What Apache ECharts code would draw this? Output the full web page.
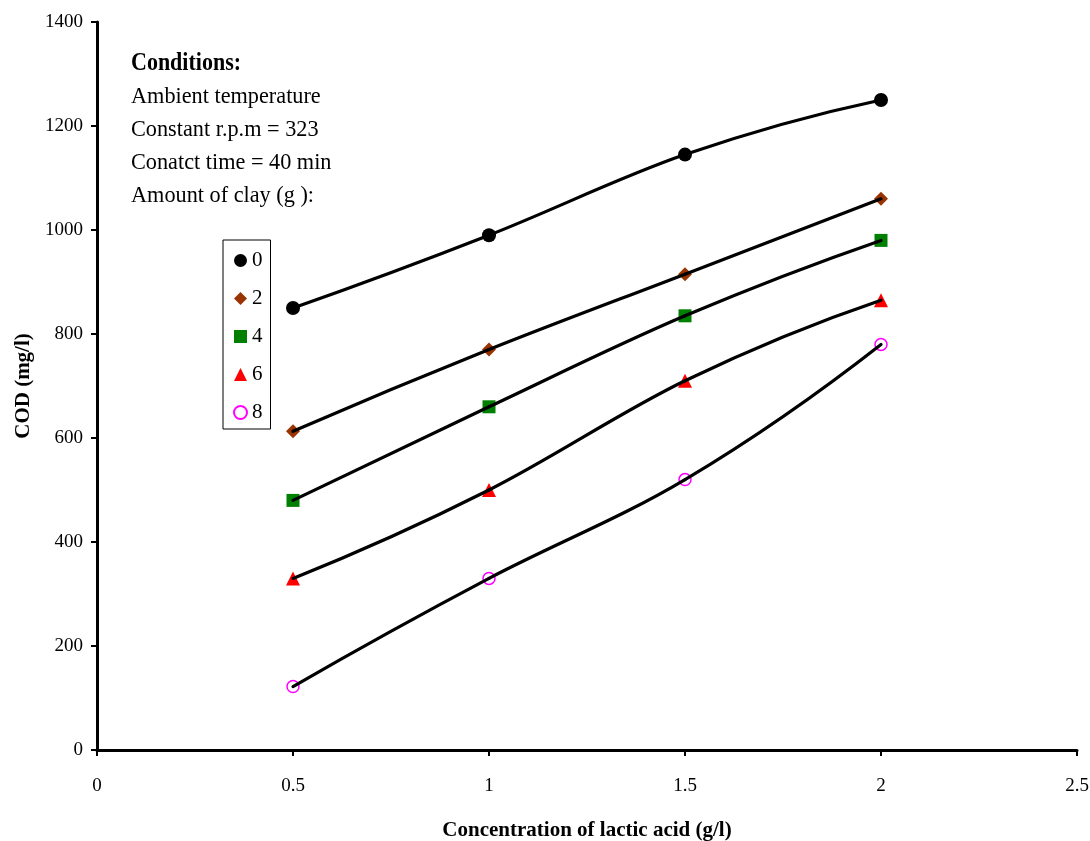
<!DOCTYPE html>
<html><head><meta charset="utf-8">
<script src="https://cdn.jsdelivr.net/npm/echarts@6/dist/echarts.min.js"></script>
<style>html,body{margin:0;padding:0;background:#fff}#c{width:1090px;height:841px}</style>
</head><body><div id="c"></div>
<script>
const xValues = [0.5, 1, 1.5, 2];
const clay0 = [850, 990, 1145, 1250];
const clay2 = [613, 770, 915, 1060];
const clay4 = [480, 660, 835, 980];
const clay6 = [330, 500, 710, 865];
const clay8 = [122, 330, 520, 780];
const seriesNames = ['0', '2', '4', '6', '8'];
const conditionLines = ['Ambient temperature', 'Constant r.p.m = 323', 'Conatct time = 40 min', 'Amount of clay (g ):'];

const font = 'Liberation Serif';
const specs = [
  {data: clay0, symbol: 'circle', size: 14, color: '#000000', hollow: false},
  {data: clay2, symbol: 'diamond', size: 14, color: '#993300', hollow: false},
  {data: clay4, symbol: 'rect', size: 13, color: '#008000', hollow: false},
  {data: clay6, symbol: 'triangle', size: 14, color: '#ff0000', hollow: false},
  {data: clay8, symbol: 'circle', size: 12, color: '#ff00ff', hollow: true}
];

// smooth curve segments (Excel-like spline) computed in pixel space via the axes
function makeRenderer(values) {
  return function (params, api) {
    const i = params.dataIndex;
    const n = values.length;
    if (i >= n - 1) return null;
    const P = values.map((v, k) => api.coord([xValues[k], v]));
    const D = P.map((p, k) => {
      if (k > 0 && k < n - 1) return [(P[k + 1][0] - P[k - 1][0]) / 2, (P[k + 1][1] - P[k - 1][1]) / 2];
      return null;
    });
    if (n > 2) {
      const d1 = D[1];
      D[0] = [2 * (P[1][0] - P[0][0]) - d1[0], 2 * (P[1][1] - P[0][1]) - d1[1]];
      const dl = D[n - 2];
      D[n - 1] = [2 * (P[n - 1][0] - P[n - 2][0]) - dl[0], 2 * (P[n - 1][1] - P[n - 2][1]) - dl[1]];
    } else {
      D[0] = [P[1][0] - P[0][0], P[1][1] - P[0][1]];
      D[1] = D[0];
    }
    const a = P[i], b = P[i + 1];
    return {
      type: 'bezierCurve',
      shape: {
        x1: a[0], y1: a[1], x2: b[0], y2: b[1],
        cpx1: a[0] + D[i][0] / 3, cpy1: a[1] + D[i][1] / 3,
        cpx2: b[0] - D[i + 1][0] / 3, cpy2: b[1] - D[i + 1][1] / 3
      },
      style: {stroke: '#000', lineWidth: 3.2, fill: 'none', lineCap: 'round'},
      silent: true
    };
  };
}

const series = [];
specs.forEach((s, i) => {
  series.push({
    name: seriesNames[i],
    type: 'line',
    data: xValues.map((x, j) => [x, s.data[j]]),
    symbol: s.symbol,
    symbolSize: s.size,
    showAllSymbol: true,
    lineStyle: {width: 0, opacity: 0},
    itemStyle: s.hollow ? {color: '#fff', borderColor: s.color, borderWidth: 1.5} : {color: s.color, borderWidth: 0},
    z: 2
  });
});
specs.forEach((s, i) => {
  series.push({
    name: 'curve' + seriesNames[i],
    type: 'custom',
    data: xValues.map((x, j) => [x, s.data[j]]),
    renderItem: makeRenderer(s.data),
    z: 3,
    silent: true
  });
});

const chart = echarts.init(document.getElementById('c'));
chart.setOption({
  animation: false,
  backgroundColor: '#fff',
  grid: {left: 97, right: 13, top: 22, bottom: 91, containLabel: false, outerBoundsMode: 'none'},
  xAxis: {
    type: 'value', min: 0, max: 2.5, interval: 0.5,
    name: 'Concentration of lactic acid (g/l)', nameLocation: 'middle', nameGap: 70,
    nameTextStyle: {fontFamily: font, fontWeight: 'bold', fontSize: 21, color: '#000'},
    axisLine: {lineStyle: {color: '#000', width: 3}},
    axisTick: {length: 6, lineStyle: {color: '#000', width: 2}},
    axisLabel: {fontFamily: font, fontSize: 19, color: '#000', margin: 27},
    splitLine: {show: false}
  },
  yAxis: {
    type: 'value', min: 0, max: 1400, interval: 200,
    name: 'COD (mg/l)', nameLocation: 'middle', nameGap: 62, nameRotate: 90,
    nameTextStyle: {fontFamily: font, fontWeight: 'bold', fontSize: 21, color: '#000'},
    axisLine: {lineStyle: {color: '#000', width: 3}},
    axisTick: {length: 6, lineStyle: {color: '#000', width: 2}},
    axisLabel: {fontFamily: font, fontSize: 19, color: '#000', margin: 14, formatter: v => String(v)},
    splitLine: {show: false}
  },
  legend: {
    orient: 'vertical', left: 223, top: 240,
    padding: [10, 8, 6, 10],
    borderColor: '#000', borderWidth: 1,
    itemWidth: 13, itemHeight: 13, itemGap: 17,
    textStyle: {fontFamily: font, fontSize: 21, color: '#000', padding: [0, 0, 0, 0]},
    data: seriesNames.map((n, i) => ({name: n, icon: specs[i].symbol}))
  },
  graphic: [
    {type: 'text', left: 131, top: 51, scaleY: 1.12, style: {text: 'Conditions:', font: 'bold 22px "Liberation Serif"', fill: '#000'}},
    ...conditionLines.map((t, i) => ({type: 'text', left: 131, top: 85 + i * 33, scaleX: 1.06, scaleY: 1.12, style: {text: t, font: '21px "Liberation Serif"', fill: '#000'}}))
  ],
  series: series
});
</script></body></html>
